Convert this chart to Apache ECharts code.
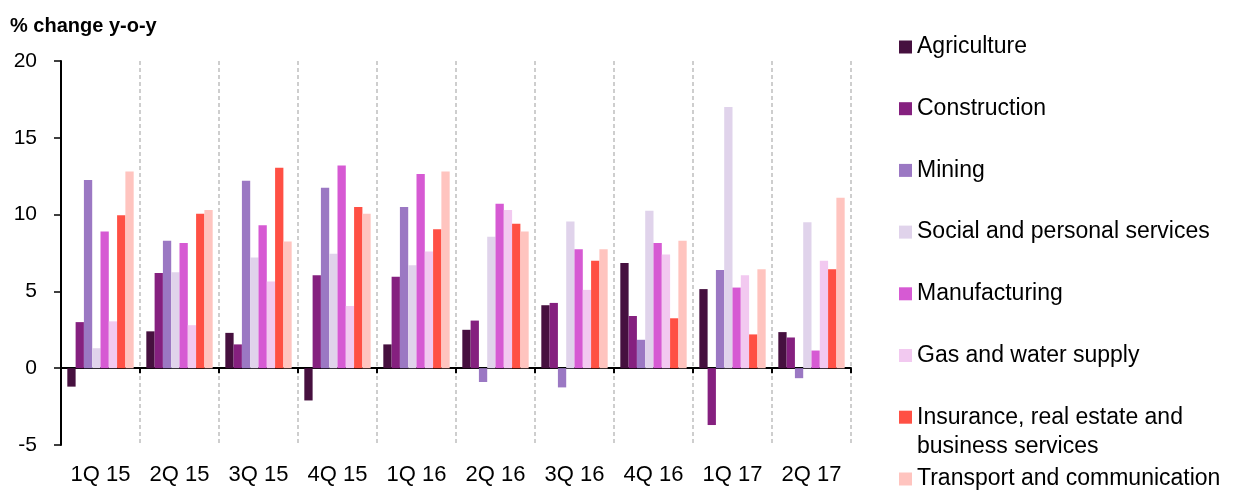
<!DOCTYPE html>
<html>
<head>
<meta charset="utf-8">
<script src="https://cdn.jsdelivr.net/npm/echarts@6/dist/echarts.min.js"></script>
<style>
html,body{margin:0;padding:0;background:#fff;}
#chart{width:1237px;height:490px;}
</style>
</head>
<body>
<div id="chart"></div>
<script>
var categories = ['1Q 15','2Q 15','3Q 15','4Q 15','1Q 16','2Q 16','3Q 16','4Q 16','1Q 17','2Q 17'];
var seriesNames = ['Agriculture','Construction','Mining','Social and personal services','Manufacturing','Gas and water supply','Insurance, real estate and business services','Transport and communication'];
var agriculture   = [-1.2, 2.4, 2.3, -2.1, 1.55, 2.5, 4.1, 6.85, 5.15, 2.35];
var construction  = [3.0, 6.2, 1.55, 6.05, 5.95, 3.1, 4.25, 3.4, -3.7, 2.0];
var mining        = [12.25, 8.3, 12.2, 11.75, 10.5, -0.9, -1.25, 1.85, 6.4, -0.65];
var social        = [1.3, 6.25, 7.2, 7.45, 6.7, 8.55, 9.55, 10.25, 17.0, 9.5];
var manufacturing = [8.9, 8.15, 9.3, 13.2, 12.65, 10.7, 7.75, 8.15, 5.25, 1.15];
var gas           = [3.05, 2.8, 5.65, 4.05, 7.6, 10.3, 5.1, 7.4, 6.05, 7.0];
var insurance     = [9.95, 10.05, 13.05, 10.5, 9.05, 9.4, 7.0, 3.25, 2.2, 6.45];
var transport     = [12.8, 10.3, 8.25, 10.05, 12.8, 8.9, 7.75, 8.3, 6.45, 11.1];
var yTicks = { min: -5, max: 20, interval: 5 };

var colors = ['#46103f','#85207f','#9b78c3','#e0d3eb','#d65ad3','#f2c9f0','#ff5044','#ffc4bf'];
var values = [agriculture, construction, mining, social, manufacturing, gas, insurance, transport];

var FONT = '"Liberation Sans", Arial, sans-serif';

var chart = echarts.init(document.getElementById('chart'), null, {renderer: 'canvas'});

var series = seriesNames.map(function (name, i) {
  return {
    name: name,
    type: 'bar',
    xAxisIndex: 0,
    yAxisIndex: 0,
    data: values[i],
    barGap: '0%',
    barCategoryGap: '16%',
    itemStyle: { color: colors[i] },
    emphasis: { disabled: true },
    animation: false
  };
});

var legendCommon = {
  orient: 'vertical',
  left: 899,
  padding: 0,
  itemWidth: 13,
  itemHeight: 13,
  itemGap: 38.7,
  icon: 'rect',
  selectedMode: false,
  formatter: function (n) {
    return n === 'Insurance, real estate and business services' ? 'Insurance, real estate and' : n;
  },
  textStyle: { fontFamily: FONT, fontSize: 23, color: '#000' }
};

var option = {
  animation: false,
  title: {
    text: '% change y-o-y',
    left: 10,
    top: 16,
    padding: 0,
    textStyle: { fontFamily: FONT, fontSize: 20, fontWeight: 'bold', color: '#000', lineHeight: 20 }
  },
  legend: [
    Object.assign({}, legendCommon, { top: 35.5, data: seriesNames.slice(0, 7) }),
    Object.assign({}, legendCommon, { top: 467.5, data: seriesNames.slice(7) })
  ],
  graphic: [{
    type: 'text',
    left: 917,
    top: 435,
    style: { text: 'business services', font: '23px ' + FONT, fill: '#000' },
    silent: true
  }],
  grid: { left: 61, right: 386, top: 61, bottom: 45, containLabel: false },
  xAxis: [{
    type: 'category',
    data: categories,
    position: 'bottom',
    axisLine: { show: false, onZero: false },
    axisTick: { show: false },
    axisLabel: { fontFamily: FONT, fontSize: 22, color: '#000', margin: 19, interval: 0 },
    splitLine: { show: true, interval: 0, lineStyle: { color: '#bfbfbf', type: [4, 3], width: 1.5 } }
  }, {
    type: 'category',
    data: categories,
    position: 'bottom',
    axisLine: { show: true, onZero: true, lineStyle: { color: '#000', width: 2 } },
    axisTick: { show: true, inside: false, length: 5, lineStyle: { color: '#000', width: 2 }, interval: 0 },
    axisLabel: { show: false },
    splitLine: { show: false }
  }],
  yAxis: {
    type: 'value',
    min: yTicks.min,
    max: yTicks.max,
    interval: yTicks.interval,
    axisLine: { show: true, lineStyle: { color: '#000', width: 2 } },
    axisTick: { show: true, inside: false, length: 7, lineStyle: { color: '#000', width: 1.5 } },
    axisLabel: { fontFamily: FONT, fontSize: 21, color: '#000', margin: 24 },
    splitLine: { show: false }
  },
  series: series
};
chart.setOption(option);
</script>
</body>
</html>
